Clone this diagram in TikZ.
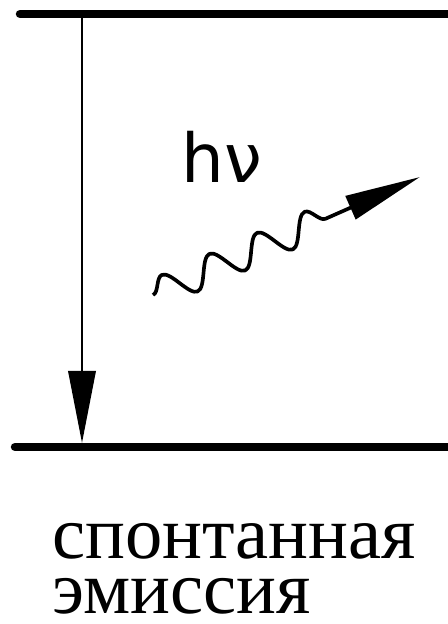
\documentclass[tikz,border=0pt]{standalone}
\usepackage{fontspec}
\setmainfont{Liberation Serif}
\newfontfamily\hvfont{DejaVu Sans}
\usetikzlibrary{arrows.meta,decorations.pathmorphing}

\begin{document}
\begin{tikzpicture}[
    x=0.025cm, y=-0.025cm,
    level/.style={line width=6pt, line cap=round},
    trans/.style={line width=2pt, -{Triangle[length=1.8cm, width=0.68cm]}},
    photon/.style={line width=2.6pt, line join=round,
      decorate, decoration={snake, amplitude=0.37cm, segment length=1.3cm, post length=2.4cm},
      -{Triangle[length=1.9cm, width=0.62cm]}},
    lbl/.style={inner sep=0pt, align=left, font=\fontsize{53}{39}\selectfont},
  ]
  \useasboundingbox (0,0) rectangle (447,624);

  % energy levels
  \coordinate (upL) at (20,14);
  \coordinate (upR) at (460,14);
  \coordinate (loL) at (15,447);
  \coordinate (loR) at (460,447);
  \draw[level] (upL) -- (upR);
  \draw[level] (loL) -- (loR);

  % spontaneous transition
  \coordinate (from) at (82,17);
  \coordinate (to) at (82,443);
  \draw[trans] (from) -- (to);

  % emitted photon
  \node[inner sep=0pt, anchor=base west, font=\hvfont\fontsize{48}{50}\selectfont] (hv) at (181,182) {hν};
  \coordinate (ph0) at (153,295);
  \coordinate (ph1) at (420,177);
  \draw[photon] (ph0) -- (ph1);

  \node[lbl, anchor=north west] (cap) at (52,523) {спонтанная\\эмиссия};
\end{tikzpicture}
\end{document}
